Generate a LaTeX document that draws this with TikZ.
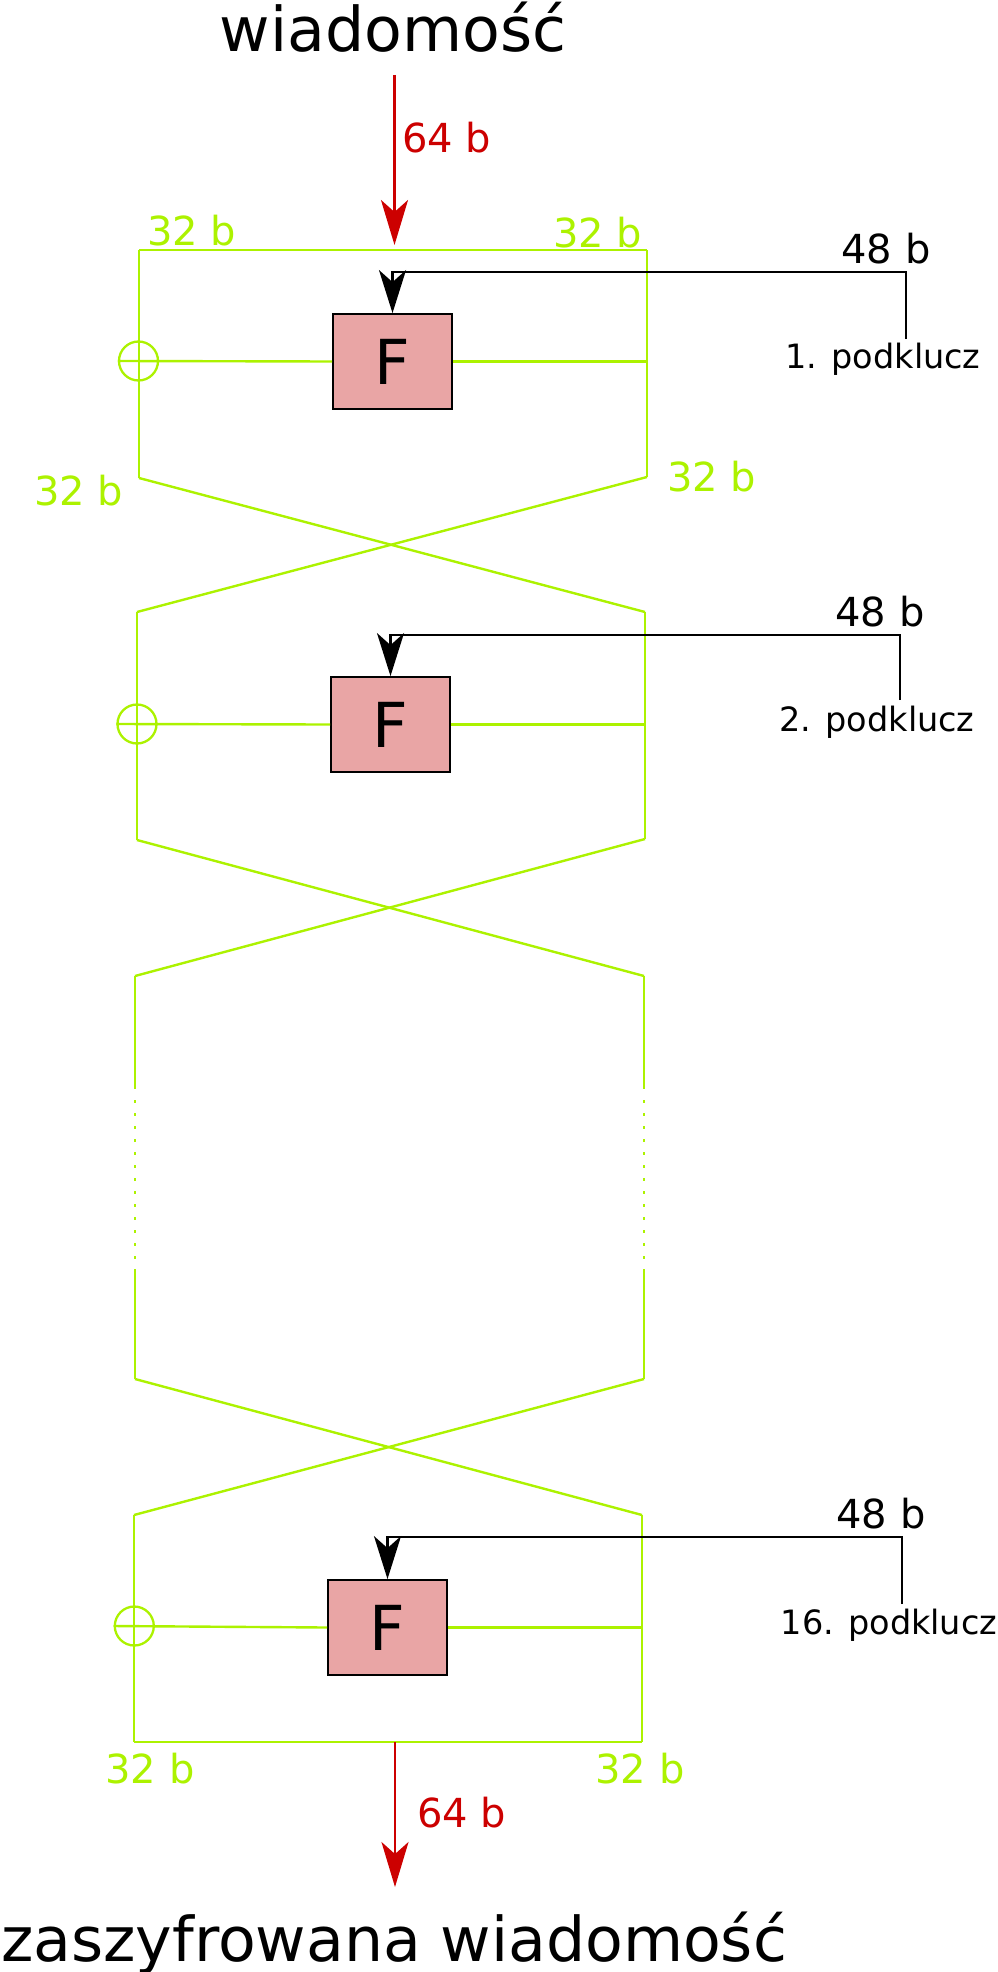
\documentclass[tikz,border=0pt]{standalone}
\usepackage{fontspec}
\setmainfont{DejaVu Sans}
\usetikzlibrary{arrows.meta}
\definecolor{grn}{RGB}{172,242,0}
\definecolor{rd}{RGB}{204,0,0}
\definecolor{boxfill}{RGB}{233,165,165}
\begin{document}
\begin{tikzpicture}[x=1pt,y=-1pt,
  wire/.style={draw=grn,line width=2.4pt},
  dotwire/.style={draw=grn,line width=2.4pt,dash pattern=on 2.5pt off 10.5pt},
  fbox/.style={draw=black,line width=1.8pt,fill=boxfill,minimum width=119pt,minimum height=95pt,inner sep=0pt,font=\fontsize{62}{62}\selectfont},
  xor/.style={circle,draw=grn,line width=2.3pt,minimum size=39pt,inner sep=0pt},
  keyline/.style={draw=black,line width=2.3pt},
  keyarrow/.style={keyline,-{Stealth[length=43pt,width=27pt,inset=12pt]}},
  redarrow/.style={draw=rd,line width=2.3pt,-{Stealth[length=45pt,width=27pt,inset=12pt]}},
  bigtext/.style={font=\fontsize{61.7}{62}\selectfont,anchor=base,inner sep=0pt},
  glabel/.style={text=grn,font=\fontsize{40}{40}\selectfont,anchor=base,inner sep=0pt},
  rlabel/.style={text=rd,font=\fontsize{40}{40}\selectfont,anchor=base west,inner sep=0pt},
  klabel/.style={font=\fontsize{40}{40}\selectfont,anchor=base,inner sep=0pt},
  plabel/.style={font=\fontsize{33.5}{34}\selectfont,anchor=base,inner sep=0pt},
]
\useasboundingbox (0,0) rectangle (997,1972);

% titles
\node[bigtext] (msg) at (393,52) {wiadomość};
\node[bigtext] (cipher) at (394,1961) {zaszyfrowana wiadomość};

% ---------- round 1 ----------
\coordinate (TL1) at (139,250);
\coordinate (TR1) at (647,250);
\coordinate (BL1) at (139,478);
\coordinate (BR1) at (647,477);
\node[xor] (X1) at (138.5,361) {};
\node[fbox] (F1) at (392.5,361.5) {F};
\draw[wire] (TL1) -- (TR1);
\draw[wire] (TL1) -- (BL1);
\draw[wire] (TR1) -- (BR1);
\draw[wire] (X1.west) -- (F1.west);
\draw[wire] (F1.east) -- (F1.east -| TR1);
\coordinate (K1) at (906,339);
\coordinate (KC1) at (906,272);
\coordinate (KA1) at (F1.north |- KC1);
\draw[keyarrow] (K1) -- (KC1) -- (KA1) -- (F1.north);
\node[klabel] (B48a) at (886,263) {48 b};
\node[plabel] (P1) at (883,368) {1. podklucz};

% input arrow
\coordinate (inTop) at (394.5,75);
\coordinate (inTip) at (394.5,245);
\draw[redarrow] (inTop) -- (inTip);
\node[rlabel] (R64a) at (402,153) {64 b};

% labels round 1
\node[glabel] (G1) at (191.5,245) {32 b};
\node[glabel] (G2) at (597.5,247) {32 b};
\node[glabel] (G3) at (78.6,505) {32 b};
\node[glabel] (G4) at (711.6,491) {32 b};

% ---------- round 2 ----------
\coordinate (TL2) at (137,612);
\coordinate (TR2) at (645,612);
\coordinate (BL2) at (137,840);
\coordinate (BR2) at (645,839);
\draw[wire] (BL1) -- (TR2);
\draw[wire] (BR1) -- (TL2);
\node[xor] (X2) at (137,724) {};
\node[fbox] (F2) at (390.5,724.5) {F};
\draw[wire] (TL2) -- (BL2);
\draw[wire] (TR2) -- (BR2);
\draw[wire] (X2.west) -- (F2.west);
\draw[wire] (F2.east) -- (F2.east -| TR2);
\coordinate (K2) at (900,700);
\coordinate (KC2) at (900,635);
\coordinate (KA2) at (F2.north |- KC2);
\draw[keyarrow] (K2) -- (KC2) -- (KA2) -- (F2.north);
\node[klabel] (B48b) at (880,626) {48 b};
\node[plabel] (P2) at (877,731) {2. podklucz};

% ---------- gap ----------
\coordinate (TL3) at (135,976);
\coordinate (TR3) at (644,976);
\coordinate (BL3) at (135,1379);
\coordinate (BR3) at (644,1379);
\draw[wire] (BL2) -- (TR3);
\draw[wire] (BR2) -- (TL3);
\coordinate (L3a) at (135,1089);
\coordinate (L3b) at (135,1100);
\coordinate (L3c) at (135,1262);
\coordinate (L3d) at (135,1269);
\coordinate (R3a) at (644,1089);
\coordinate (R3b) at (644,1100);
\coordinate (R3c) at (644,1262);
\coordinate (R3d) at (644,1269);
\draw[wire] (TL3) -- (L3a);
\draw[dotwire] (L3b) -- (L3c);
\draw[wire] (L3d) -- (BL3);
\draw[wire] (TR3) -- (R3a);
\draw[dotwire] (R3b) -- (R3c);
\draw[wire] (R3d) -- (BR3);

% ---------- round 16 ----------
\coordinate (TL4) at (134,1515);
\coordinate (TR4) at (642,1515);
\coordinate (BL4) at (134,1742);
\coordinate (BR4) at (642,1742);
\draw[wire] (BL3) -- (TR4);
\draw[wire] (BR3) -- (TL4);
\node[xor] (X4) at (134.3,1626) {};
\node[fbox] (F4) at (387.5,1627.5) {F};
\draw[wire] (TL4) -- (BL4);
\draw[wire] (TR4) -- (BR4);
\draw[wire] (BL4) -- (BR4);
\draw[wire] (X4.west) -- (F4.west);
\draw[wire] (F4.east) -- (F4.east -| TR4);
\coordinate (K4) at (902,1604);
\coordinate (KC4) at (902,1537);
\coordinate (KA4) at (F4.north |- KC4);
\draw[keyarrow] (K4) -- (KC4) -- (KA4) -- (F4.north);
\node[klabel] (B48c) at (881,1528) {48 b};
\node[plabel] (P4) at (889,1634) {16. podklucz};

\node[glabel] (G5) at (150,1783) {32 b};
\node[glabel] (G6) at (640,1783) {32 b};

% output arrow
\coordinate (outTop) at (395,1742);
\coordinate (outTip) at (395,1887);
\draw[redarrow] (outTop) -- (outTip);
\node[rlabel] (R64b) at (417,1827) {64 b};
\end{tikzpicture}
\end{document}
